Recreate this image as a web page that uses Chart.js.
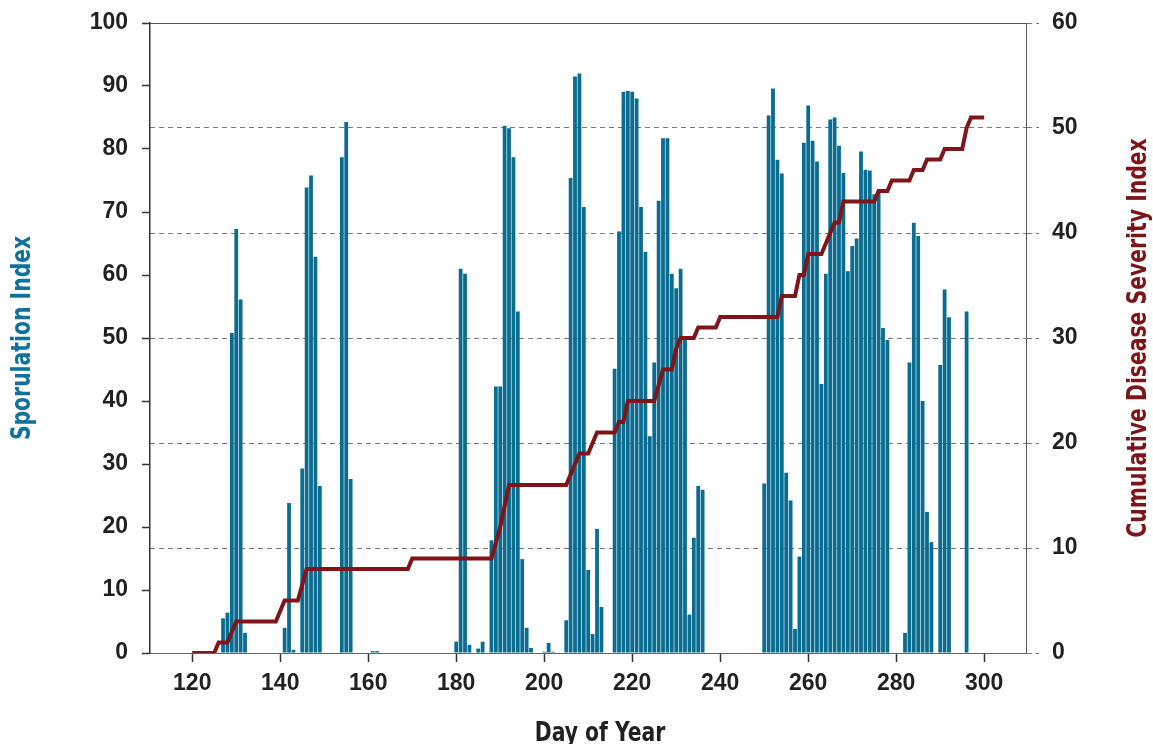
<!DOCTYPE html>
<html>
<head>
<meta charset="utf-8">
<script src="https://cdn.jsdelivr.net/npm/chart.js@4.4.1/dist/chart.umd.min.js"></script>
<style>
  html, body { margin: 0; padding: 0; background: #fff; }
  #wrap { width: 1153px; height: 744px; }
</style>
</head>
<body>
<div id="wrap"><canvas id="chart" width="1153" height="744"></canvas></div>
<script>
// Sporulation index, one bar per day (days with no bar are left out)
const barDays = [
  127, 128, 129, 130, 131, 132,
  141, 142, 143, 145, 146, 147, 148, 149,
  154, 155, 156, 161, 162,
  180, 181, 182, 183, 185, 186,
  188, 189, 190, 191, 192, 193, 194, 195, 196, 197,
  200, 201, 202,
  205, 206, 207, 208, 209, 210, 211, 212, 213,
  216, 217, 218, 219, 220, 221, 222, 223, 224, 225, 226, 227, 228, 229, 230, 231, 232, 233, 234, 235, 236,
  250, 251, 252, 253, 254, 255, 256, 257, 258, 259, 260, 261, 262, 263, 264, 265, 266, 267, 268, 269, 270,
  271, 272, 273, 274, 275, 276, 277, 278,
  282, 283, 284, 285, 286, 287, 288, 290, 291, 292, 296,
];
const sporulation = [
  5.5, 6.4, 50.8, 67.3, 56.1, 3.2,
  4.0, 23.8, 0.5, 29.3, 73.9, 75.8, 62.9, 26.5,
  78.7, 84.3, 27.6, 0.3, 0.3,
  1.8, 61.0, 60.2, 1.3, 0.7, 1.8,
  17.9, 42.3, 42.3, 83.7, 83.3, 78.7, 54.2, 14.9, 4.0, 0.8,
  0.2, 1.6, 0.2,
  5.2, 75.4, 91.5, 92.0, 70.8, 13.2, 3.0, 19.7, 7.3,
  45.1, 66.9, 89.1, 89.2, 89.1, 88.0, 70.8, 63.7, 34.4, 46.1, 71.8, 81.7, 81.7, 60.2, 57.9, 61.0, 49.7, 6.1, 18.3, 26.5, 25.9,
  26.9, 85.3, 89.6, 78.3, 76.1, 28.6, 24.2, 3.8, 15.3, 81.0, 86.9, 81.3, 78.0, 42.7, 60.2, 84.7, 85.0, 80.5, 76.2, 60.6, 64.6,
  65.8, 79.6, 76.7, 76.6, 72.8, 73.3, 51.6, 49.7,
  3.2, 46.1, 68.3, 66.2, 40.0, 22.4, 17.6, 45.7, 57.7, 53.3, 54.2,
];

// Cumulative disease severity index, read at the corners of the line
const severityDays = [
  120, 125, 126, 128, 130, 139, 141, 144, 146, 169, 170, 188, 190, 192, 205, 208, 210, 212,
  216, 217, 218, 219, 225, 227, 229, 230, 231, 234, 235, 239, 240, 253, 254, 257, 258, 259,
  260, 263, 266, 267, 268, 275, 276, 278, 279, 283, 284, 286, 287, 290, 291, 295, 296, 297, 300,
];
const severity = [
  0, 0, 1, 1, 3, 3, 5, 5, 8, 8, 9, 9, 12, 16, 16, 19, 19, 21,
  21, 22, 22, 24, 24, 27, 27, 29, 30, 30, 31, 31, 32, 32, 34, 34, 36, 36,
  38, 38, 41, 41, 43, 43, 44, 44, 45, 45, 46, 46, 47, 47, 48, 48, 50, 51, 51,
];

const xTicks = [120, 140, 160, 180, 200, 220, 240, 260, 280, 300];

const tickFont = { family: '"Liberation Sans", Arial, sans-serif', size: 23, weight: 'bold' };
const titleFont = '"Liberation Sans Narrow", "DejaVu Sans Condensed", "Roboto Condensed", "Liberation Sans", sans-serif';
const tickColor = '#231f20';
const barColor = '#096c91';
const lineColor = '#7f1518';

// the original titles are set in a condensed face, so squeeze them a little
function drawTitle(ctx, text, x, y, angle, color) {
  ctx.save();
  ctx.fillStyle = color;
  ctx.translate(x, y);
  ctx.rotate(angle);
  ctx.scale(0.87, 1);
  ctx.fillText(text, 0, 0);
  ctx.restore();
}

const axisTitles = {
  id: 'axisTitles',
  afterDraw(chart) {
    const { ctx, chartArea } = chart;
    const midY = (chartArea.top + chartArea.bottom) / 2;
    ctx.save();
    ctx.font = `bold 26px ${titleFont}`;
    ctx.textAlign = 'center';
    ctx.textBaseline = 'middle';
    drawTitle(ctx, 'Sporulation Index', 23, midY, -Math.PI / 2, '#10719a');
    drawTitle(ctx, 'Cumulative Disease Severity Index', 1139, midY, -Math.PI / 2, '#7d1518');
    ctx.textBaseline = 'alphabetic';
    drawTitle(ctx, 'Day of Year', 600, 741, 0, tickColor);
    ctx.restore();
  },
};

// fixed widths for the side axes, and no extra room above the top label
function fitSide(width) {
  return (scale) => {
    scale.width = width;
    scale.paddingTop = 0;
    scale.paddingBottom = 0;
  };
}

new Chart(document.getElementById('chart'), {
  data: {
    datasets: [
      {
        type: 'line',
        label: 'Cumulative Disease Severity Index',
        data: severityDays.map((day, i) => ({ x: day, y: severity[i] })),
        borderColor: lineColor,
        borderWidth: 4,
        pointRadius: 0,
        tension: 0,
        yAxisID: 'y2',
        order: 0,
      },
      {
        type: 'bar',
        label: 'Sporulation Index',
        data: barDays.map((day, i) => ({ x: day, y: sporulation[i] })),
        backgroundColor: barColor,
        borderWidth: 0,
        barPercentage: 0.86,
        categoryPercentage: 1,
        yAxisID: 'y',
        order: 1,
      },
    ],
  },
  options: {
    responsive: false,
    animation: false,
    layout: { padding: { top: 23, left: 0, right: 0, bottom: 0 } },
    plugins: {
      legend: { display: false },
      tooltip: { enabled: false },
    },
    scales: {
      x: {
        type: 'linear',
        min: 110.4,
        max: 309.5,
        offset: false,
        afterBuildTicks(scale) {
          scale.ticks = xTicks.map((value) => ({ value }));
        },
        afterFit(scale) {
          scale.height = 91;
          scale.paddingLeft = 0;
          scale.paddingRight = 0;
        },
        ticks: { font: tickFont, color: tickColor, padding: 8, maxRotation: 0 },
        grid: { drawOnChartArea: false, offset: false, tickLength: 9, tickColor: '#333', tickWidth: 1.5 },
        border: { display: true, color: '#666', width: 1 },
      },
      y: {
        position: 'left',
        min: 0,
        max: 100,
        afterFit: fitSide(150),
        ticks: { stepSize: 10, font: tickFont, color: tickColor, padding: 14 },
        grid: { drawOnChartArea: false, tickLength: 8, tickColor: '#333', tickWidth: 1.5 },
        border: { display: true, color: '#333', width: 1.5 },
      },
      y2: {
        position: 'right',
        min: 0,
        max: 60,
        z: 1,
        afterFit: fitSide(127),
        ticks: { stepSize: 10, font: tickFont, color: tickColor, padding: 13 },
        grid: {
          drawOnChartArea: true,
          color: (ctx) => (ctx.tick && ctx.tick.value === 60 ? '#555' : '#7a7a7a'),
          lineWidth: 1,
          tickLength: 13,
          tickColor: '#7a7a7a',
          tickBorderDash: [5, 4],
        },
        border: {
          display: true,
          color: '#555',
          width: 1,
          dash: (ctx) => (ctx.tick && ctx.tick.value === 60 ? [] : [5, 4]),
        },
      },
    },
  },
  plugins: [axisTitles],
});
</script>
</body>
</html>
